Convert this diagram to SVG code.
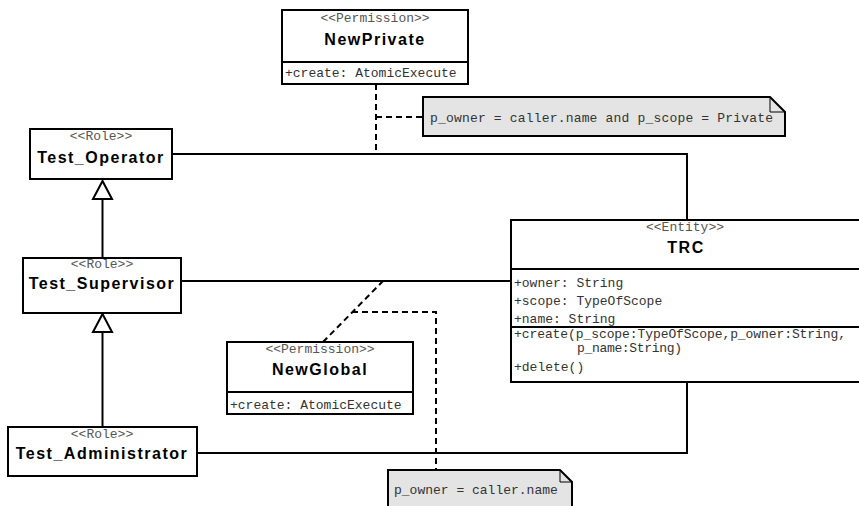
<svg xmlns="http://www.w3.org/2000/svg" width="859" height="506" viewBox="0 0 859 506">
  <style>
    .box { fill: #ffffff; stroke: #000000; stroke-width: 2; }
    .div { stroke: #000000; stroke-width: 2; }
    .st { font-family: "Liberation Mono", "Courier New", monospace; font-size: 13px; fill: #555555; text-anchor: middle; }
    .nm { font-family: "Liberation Sans", Arial, sans-serif; font-size: 16px; font-weight: bold; fill: #000000; text-anchor: middle; letter-spacing: 1.5px; }
    .at { font-family: "Liberation Mono", "Courier New", monospace; font-size: 13px; fill: #333333; }
    .assoc { fill: none; stroke: #000000; stroke-width: 2; }
    .dash { fill: none; stroke: #000000; stroke-width: 2; stroke-dasharray: 6 4; }
    .gen { fill: #ffffff; stroke: #000000; stroke-width: 2; }
    .note { fill: #e4e4e4; stroke: #000000; stroke-width: 2; }
    .fold { fill: none; stroke: #000000; stroke-width: 1; }
  </style>

  <!-- connectors -->
  <g id="connectors">
    <!-- associations -->
    <polyline class="assoc" points="172,154 687,154 687,220"/>
    <line class="assoc" x1="181" y1="281" x2="511" y2="281"/>
    <polyline class="assoc" points="197,453 687,453 687,382"/>
    <!-- generalizations -->
    <line class="assoc" x1="102.5" y1="258" x2="102.5" y2="199"/>
    <polygon class="gen" points="102.5,181 93,199 112,199"/>
    <line class="assoc" x1="102.5" y1="427" x2="102.5" y2="332"/>
    <polygon class="gen" points="102.5,314 93,332 112,332"/>
    <!-- permission links and constraints -->
    <line class="dash" x1="376" y1="84" x2="376" y2="155"/>
    <line class="dash" x1="376" y1="117" x2="423" y2="117"/>
    <line class="dash" x1="323" y1="342" x2="383" y2="281"/>
    <polyline class="dash" points="352,312 436,312 436,470"/>
  </g>

  <g id="NewPrivate">
    <rect class="box" x="282" y="10" width="186" height="74"/>
    <line class="div" x1="282" y1="62" x2="468" y2="62"/>
    <text class="st" x="375" y="22">&lt;&lt;Permission&gt;&gt;</text>
    <text class="nm" x="375" y="45" letter-spacing="1.8">NewPrivate</text>
    <text class="at" x="285" y="77">+create: AtomicExecute</text>
  </g>

  <g id="note-private">
    <polygon class="note" points="423,97 770,97 785,112 785,136 423,136"/>
    <polyline class="fold" points="770,97 770,112 785,112"/>
    <text class="at" x="430" y="122" textLength="343">p_owner = caller.name and p_scope = Private</text>
  </g>

  <g id="Test_Operator">
    <rect class="box" x="30" y="129" width="142" height="50"/>
    <text class="st" x="101" y="140">&lt;&lt;Role&gt;&gt;</text>
    <text class="nm" x="101" y="163">Test_Operator</text>
  </g>

  <g id="Test_Supervisor">
    <rect class="box" x="23" y="258" width="158" height="55"/>
    <text class="st" x="102" y="268">&lt;&lt;Role&gt;&gt;</text>
    <text class="nm" x="102" y="289">Test_Supervisor</text>
  </g>

  <g id="Test_Administrator">
    <rect class="box" x="8" y="427" width="189" height="49"/>
    <text class="st" x="102" y="438">&lt;&lt;Role&gt;&gt;</text>
    <text class="nm" x="102" y="459">Test_Administrator</text>
  </g>

  <g id="TRC">
    <rect class="box" x="511" y="220" width="360" height="162"/>
    <line class="div" x1="511" y1="269" x2="871" y2="269"/>
    <line class="div" x1="511" y1="327" x2="871" y2="327"/>
    <text class="st" x="685" y="231">&lt;&lt;Entity&gt;&gt;</text>
    <text class="nm" x="686" y="253" letter-spacing="0.5">TRC</text>
    <text class="at" x="514" y="287">+owner: String</text>
    <text class="at" x="514" y="305">+scope: TypeOfScope</text>
    <text class="at" x="514" y="323">+name: String</text>
    <text class="at" x="514" y="338" font-size="12" textLength="332">+create(p_scope:TypeOfScope,p_owner:String,</text>
    <text class="at" x="577" y="352" font-size="12" textLength="105">p_name:String)</text>
    <text class="at" x="514" y="371">+delete()</text>
  </g>

  <g id="NewGlobal">
    <rect class="box" x="227" y="342" width="186" height="72"/>
    <line class="div" x1="227" y1="392" x2="413" y2="392"/>
    <text class="st" x="320" y="353">&lt;&lt;Permission&gt;&gt;</text>
    <text class="nm" x="320" y="375" letter-spacing="1.8">NewGlobal</text>
    <text class="at" x="230" y="409">+create: AtomicExecute</text>
  </g>

  <g id="note-global">
    <polygon class="note" points="388,470 560,470 572,482 572,512 388,512"/>
    <polyline class="fold" points="560,470 560,482 572,482"/>
    <text class="at" x="394" y="494">p_owner = caller.name</text>
  </g>
</svg>
